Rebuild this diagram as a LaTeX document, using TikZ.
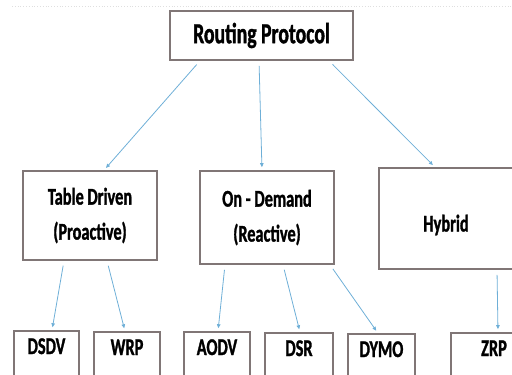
\documentclass[tikz,border=0pt]{standalone}
\usepackage{fontspec}
\newfontfamily\boxfont{Carlito}[FakeStretch=0.68, BoldFeatures={FakeBold=1.2}]
\usetikzlibrary{arrows.meta}
\definecolor{boxline}{RGB}{128,118,118}
\definecolor{linkblue}{RGB}{110,175,215}

\begin{document}
\begin{tikzpicture} [x=1pt, y=-1pt]
	\tikzset{box/.style={draw=boxline, line width=1.6pt, align=center, inner sep=0pt,
		font=\boxfont\bfseries\fontsize{24}{35}\selectfont}}
	\tikzset{rootbox/.style={box, minimum width=183pt, minimum height=49pt,
		font=\boxfont\bfseries\fontsize{29}{35}\selectfont}}
	\tikzset{midbox/.style={box, minimum width=134pt}}
	\tikzset{leafbox/.style={box, minimum height=46pt, text height=8pt, text depth=8pt}}
	\tikzset{link/.style={draw=linkblue, line width=0.8pt, -{Triangle[length=4pt,width=3.5pt]},
		shorten <=5pt, shorten >=3pt}}

	\clip (0,0) rectangle (512,375);
	\draw[gray!25, dotted, line width=0.8pt] (12,6) -- (512,6);

	\node[rootbox]	(0) at (261.5,35.5)	{Routing Protocol};
	\node[midbox, minimum height=89pt]	(1) at (90,215.5)	{Table Driven\\(Proactive)};
	\node[midbox, minimum height=93pt]	(2) at (267,217.5)	{On - Demand\\(Reactive)};
	\node[midbox, minimum height=101pt, text height=26pt, text depth=0pt]	(3) at (446,218.5)	{Hybrid};
	\node[leafbox, minimum width=65pt]	(4) at (46.5,354)	{DSDV};
	\node[leafbox, minimum width=66pt]	(5) at (127,355)	{WRP};
	\node[leafbox, minimum width=66pt]	(6) at (217,355)	{AODV};
	\node[leafbox, minimum width=68pt]	(7) at (299,356)	{DSR};
	\node[leafbox, minimum width=67pt]	(8) at (381.5,357)	{DYMO};
	\node[leafbox, minimum width=86pt]	(9) at (494,356)	{ZRP};

	\path
		([xshift=-61.5pt]0.south)	edge[link]	([xshift=14pt]1.north)
		([xshift=-2.5pt]0.south)	edge[link]	([xshift=-5pt]2.north)
		([xshift=67.5pt]0.south)	edge[link]	([xshift=-11pt]3.north)
		([xshift=-26pt]1.south)		edge[link]	([xshift=5.5pt]4.north)
		([xshift=17pt]1.south)		edge[link]	([xshift=-2pt]5.north)
		([xshift=-42pt]2.south)		edge[link]	([xshift=1pt]6.north)
		([xshift=16pt]2.south)		edge[link]	([xshift=1pt]7.north)
		([xshift=63pt]2.south)		edge[link]	([xshift=-3.5pt]8.north)
		([xshift=51pt]3.south)		edge[link]	([xshift=4pt]9.north)
		;
\end{tikzpicture}
\end{document}
